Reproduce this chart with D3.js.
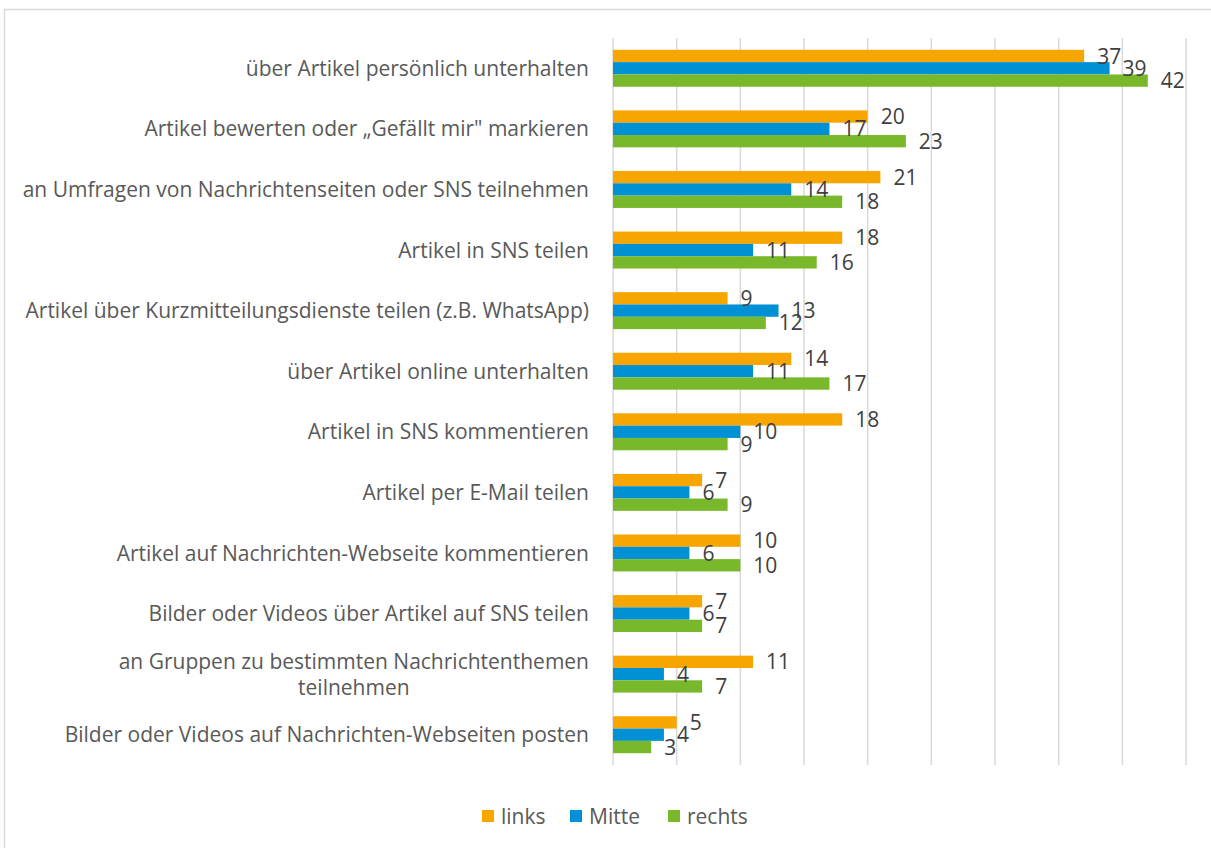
<!DOCTYPE html>
<html>
<head>
<meta charset="utf-8">
<script src="https://cdn.jsdelivr.net/npm/d3@7"></script>
<style>
  html, body { margin: 0; padding: 0; background: #ffffff; }
  svg { display: block; }
</style>
</head>
<body>
<svg id="chart" width="1211" height="848"></svg>
<script>
// Activity categories (top to bottom); "\n" marks a manual line break
const categories = [
  "über Artikel persönlich unterhalten",
  "Artikel bewerten oder „Gefällt mir\" markieren",
  "an Umfragen von Nachrichtenseiten oder SNS teilnehmen",
  "Artikel in SNS teilen",
  "Artikel über Kurzmitteilungsdienste teilen (z.B. WhatsApp)",
  "über Artikel online unterhalten",
  "Artikel in SNS kommentieren",
  "Artikel per E-Mail teilen",
  "Artikel auf Nachrichten-Webseite kommentieren",
  "Bilder oder Videos über Artikel auf SNS teilen",
  "an Gruppen zu bestimmten Nachrichtenthemen\nteilnehmen",
  "Bilder oder Videos auf Nachrichten-Webseiten posten"
];

const seriesNames = ["links", "Mitte", "rechts"];
const links  = [37, 20, 21, 18, 9, 14, 18, 7, 10, 7, 11, 5];
const mitte  = [39, 17, 14, 11, 13, 11, 10, 6, 6, 6, 4, 4];
const rechts = [42, 23, 18, 16, 12, 17, 9, 9, 10, 7, 7, 3];
const seriesValues = [links, mitte, rechts];
const colors = ["#F7A600", "#0090D4", "#78B82A"];

const xTicks = [0, 5, 10, 15, 20, 25, 30, 35, 40, 45];

const svg = d3.select("#chart");
const font = "'Open Sans', 'DejaVu Sans', sans-serif";
const fontSize = 21;

// Chart area frame
svg.append("path")
  .attr("d", "M4.5,848 L4.5,9.5 L1211,9.5")
  .attr("fill", "none")
  .attr("stroke", "#d9d9d9")
  .attr("stroke-width", 1.5);

const plot = { left: 613, right: 1186, top: 38, bottom: 765 };

const x = d3.scaleLinear().domain([0, 45]).range([plot.left, plot.right]);
const y = d3.scaleBand().domain(categories).range([plot.top, plot.bottom])
  .paddingInner(0.39).paddingOuter(0.195);
const ySub = d3.scaleBand().domain(seriesNames).range([0, y.bandwidth()]);

// Vertical gridlines
svg.append("g").selectAll("line").data(xTicks).join("line")
  .attr("x1", d => x(d)).attr("x2", d => x(d))
  .attr("y1", plot.top).attr("y2", plot.bottom)
  .attr("stroke", "#d9d9d9").attr("stroke-width", 1.5);

// Bars and value labels
const groups = svg.append("g").selectAll("g").data(categories).join("g")
  .attr("transform", d => `translate(0,${y(d)})`);

seriesNames.forEach((name, si) => {
  groups.append("rect")
    .attr("x", x(0))
    .attr("y", ySub(name))
    .attr("width", (d, i) => x(seriesValues[si][i]) - x(0))
    .attr("height", ySub.bandwidth())
    .attr("fill", colors[si]);
});

seriesNames.forEach((name, si) => {
  groups.append("text")
    .attr("x", (d, i) => x(seriesValues[si][i]) + 13)
    .attr("y", ySub(name) + ySub.bandwidth() / 2)
    .attr("dy", "0.36em")
    .attr("font-family", font)
    .attr("font-size", fontSize)
    .attr("fill", "#404040")
    .text((d, i) => seriesValues[si][i]);
});

// Category labels
const catG = svg.append("g");
categories.forEach(c => {
  const lines = c.split("\n");
  const cy = y(c) + y.bandwidth() / 2;
  const lh = 26;
  const t = catG.append("text")
    .attr("font-family", font)
    .attr("font-size", fontSize)
    .attr("fill", "#595959");
  const tspans = lines.map((ln, li) =>
    t.append("tspan")
      .attr("y", cy + (li - (lines.length - 1) / 2) * lh)
      .attr("dy", "0.36em")
      .text(ln));
  // right-align block, centre lines within it
  const widths = tspans.map(s => s.node().getComputedTextLength());
  const maxW = d3.max(widths);
  const right = 589;
  tspans.forEach((s, i) => s.attr("x", right - maxW + (maxW - widths[i]) / 2));
});

// Legend
const legend = svg.append("g");
const legendItems = [
  { name: "links", x: 482 },
  { name: "Mitte", x: 570 },
  { name: "rechts", x: 668 }
];
legendItems.forEach((it, i) => {
  legend.append("rect")
    .attr("x", it.x).attr("y", 810)
    .attr("width", 12).attr("height", 12)
    .attr("fill", colors[i]);
  legend.append("text")
    .attr("x", it.x + 19).attr("y", 816)
    .attr("dy", "0.36em")
    .attr("font-family", font)
    .attr("font-size", fontSize)
    .attr("fill", "#595959")
    .text(it.name);
});
</script>
</body>
</html>
